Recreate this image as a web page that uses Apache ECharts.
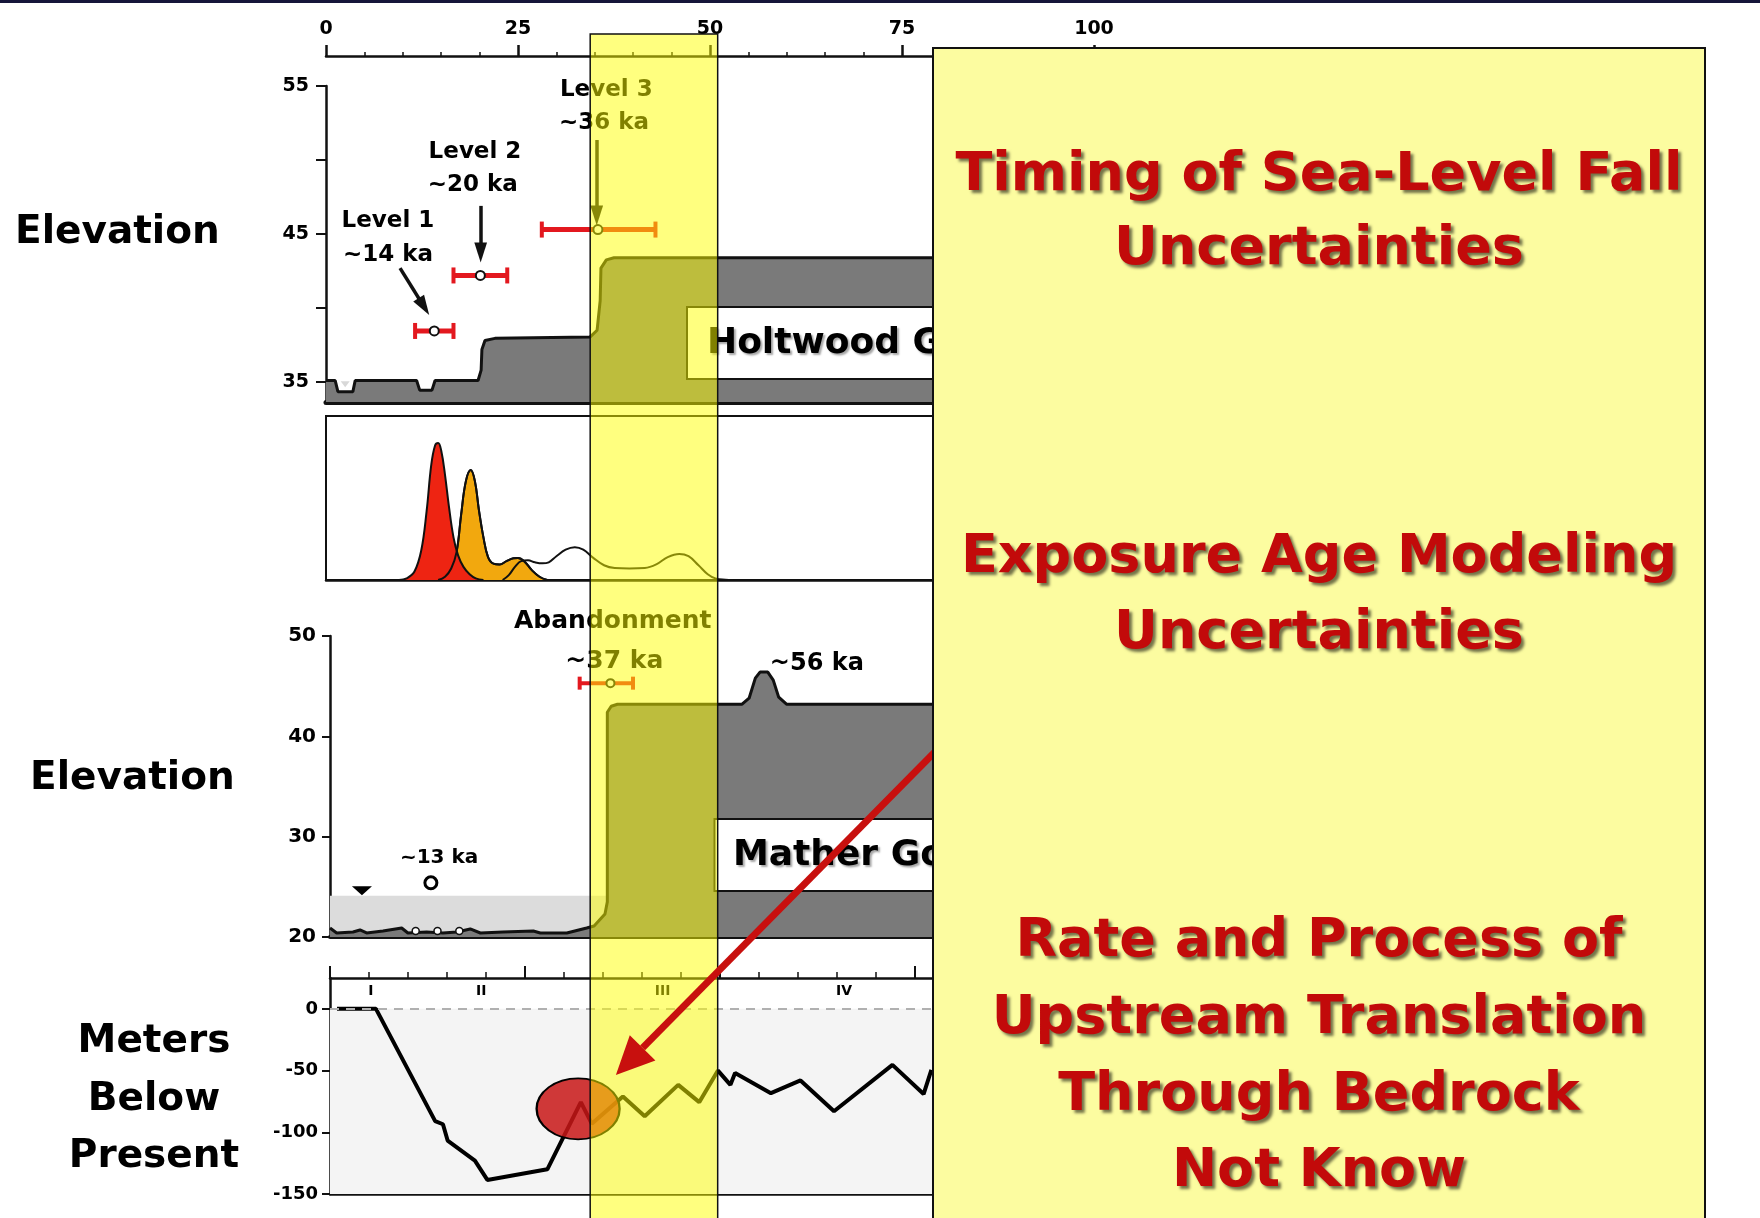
<!DOCTYPE html>
<html><head><meta charset="utf-8">
<script src="https://cdn.jsdelivr.net/npm/echarts@6/dist/echarts.min.js"></script>
<style>html,body{margin:0;padding:0;background:#fff}#c{width:1760px;height:1218px}</style>
</head><body><div id="c"></div>
<script>
// ================= DATA =================
const topTickLabels = [0, 25, 50, 75, 100];
// Holtwood Gorge longitudinal profile (age ka, elevation m)
const holtwoodAge  = [0, 1.2, 1.55, 3.5, 3.8, 11.8, 12.2, 13.8, 14.2, 19.8, 20.2, 20.3, 20.7, 22.0, 34.4, 35.3, 35.7, 35.8, 36.5, 37.5, 100];
const holtwoodElev = [35.1, 35.1, 34.35, 34.35, 35.1, 35.1, 34.45, 34.45, 35.1, 35.1, 35.8, 37.2, 37.8, 37.95, 38.05, 38.5, 40.5, 42.7, 43.25, 43.4, 43.4];
// Terrace levels (exposure ages)
const levelNames   = ['Level 1', 'Level 2', 'Level 3'];
const levelAgeText = ['~14 ka', '~20 ka', '~36 ka'];
const levelAge     = [14.1, 20.1, 35.4];
const levelAgeLow  = [11.6, 16.6, 28.1];
const levelAgeHigh = [16.6, 23.6, 42.9];
const levelElev    = [38.45, 42.2, 45.3];
// label anchors (age, elevation)
const levelLabelAge  = [8.07, 8.07, 19.4, 19.1, 36.5, 36.2];
const levelLabelElev = [45.9, 43.6, 50.56, 48.3, 54.7, 52.5];
// arrows: start / end (age, elevation)
const arrowFromAge  = [9.64, 20.14, 35.25];
const arrowFromElev = [42.7, 46.9, 51.35];
const arrowToAge    = [12.75, 20.14, 35.25];
const arrowToElev   = [40.1, 43.75, 46.25];
// Probability density curves (age ka, relative probability)
const pdfRedAge = [9.5, 10.5, 11.5, 12.4, 13.1, 13.7, 14.2, 14.6, 15.0, 15.5, 16.0, 16.6, 17.2, 17.9, 18.7, 19.5, 20.5];
const pdfRedVal = [0, 1, 5, 18, 42, 70, 82, 83.5, 79, 64, 45, 26, 15, 8, 3.5, 1, 0];
const pdfOrangeAge = [14.6, 15.5, 16.3, 17.0, 17.6, 18.2, 18.85, 19.4, 19.9, 20.5, 21.1, 21.8, 22.6, 23.5, 24.4, 25.0, 25.8, 26.8, 27.8, 28.8];
const pdfOrangeVal = [0, 2, 7, 17, 40, 60, 67, 60, 43, 26, 14, 10, 9.5, 11.5, 13.2, 13.4, 11.5, 6, 2, 0];
const pdfBlackAge = [23.0, 23.8, 24.6, 25.4, 26.3, 27.2, 28.2, 29.0, 30.0, 31.2, 32.4, 33.5, 34.8, 36.2, 37.6, 39.5, 41.5, 43.0, 44.5, 46.0, 47.2, 48.5, 49.7, 50.7, 52.0, 53.0];
const pdfBlackVal = [0, 3, 8, 11.5, 12, 10.8, 10.2, 10.8, 14.5, 18.5, 20, 18.5, 13.5, 9, 7.3, 7.0, 7.3, 9.5, 14, 15.9, 14.5, 9, 3.5, 1, 0.2, 0];
// Mather Gorge profile
const matherAge  = [0, 0.86, 2.95, 3.85, 4.7, 6.8, 9.2, 10.0, 12.4, 14.5, 16.3, 18.0, 19.3, 22.2, 26.1, 27.0, 30.4, 32.95, 33.9, 35.3, 35.6, 35.6, 36.1, 36.9, 52.9, 53.8, 54.6, 55.2, 56.2, 56.9, 57.6, 58.6, 130];
const matherElev = [20.9, 20.4, 20.5, 20.7, 20.4, 20.6, 20.9, 20.4, 20.5, 20.4, 20.5, 20.8, 20.4, 20.5, 20.6, 20.4, 20.4, 20.9, 21.1, 22.3, 23.5, 42.4, 43.0, 43.2, 43.2, 43.8, 45.8, 46.4, 46.4, 45.6, 43.9, 43.2, 43.2];
const matherShadeAge  = [0, 35.5];
const matherShadeElev = [20, 24.1];
const strathAge  = [11.0, 13.8, 16.6];
const strathElev = [20.6, 20.6, 20.6];
const sample13Age = [12.95], sample13Elev = [25.4];
const triangleAge = [4.1], triangleElev = [24.6];
const abandonAge = [36.0], abandonLow = [32.05], abandonHigh = [38.9], abandonElev = [45.3];
const matherLabelText = ['Abandonment', '~37 ka', '~56 ka', '~13 ka'];
const matherLabelAge  = [36.3, 36.5, 62.5, 14.0];
const matherLabelElev = [51.4, 47.5, 47.2, 27.9];
// Sea level curve (age ka, m below present)
const seaAge   = [0.9, 5.9, 13.5, 14.5, 15.1, 18.6, 20.2, 27.9, 32.2, 33.6, 37.6, 40.4, 44.7, 47.4, 49.8, 51.4, 52.0, 56.6, 60.4, 64.7, 72.2, 76.2, 77.2];
const seaLevel = [0, 0, -91, -93.5, -106.7, -123, -138.6, -130, -75.6, -93, -71, -87, -61.6, -75.6, -50, -61.6, -52, -68.3, -58, -83, -45.4, -69, -49.4];
const stageLabels = ['I', 'II', 'III', 'IV'];
const stageAge    = [5.26, 19.4, 42.7, 66.0];
const stageLevel  = [13.8, 13.8, 13.8, 13.8];
const highlightAge = [31.85], highlightLevel = [-81];
const redArrowTipAge = 36.7, redArrowTipLevel = -53.5;
const bandAge = [34.4, 51.0];
const seaTickLabels = [-150, -100, -50, 0];

// ================= STYLE / BUILD =================
const FONT = '"DejaVu Sans", "Liberation Sans", Arial, sans-serif';
const INK = '#111';
const zip = (a, b) => a.map((v, i) => [v, b[i]]);
const X_MAX_TOP = 100;
const X_MAX = 130;

function errorBarItem(capH, barW, r) {
  return function (params, api) {
    const y = api.value(3);
    const lo = api.coord([api.value(1), y]);
    const hi = api.coord([api.value(2), y]);
    const c = api.coord([api.value(0), y]);
    const red = '#e3181f';
    return {
      type: 'group', children: [
        { type: 'line', shape: { x1: lo[0], y1: lo[1], x2: hi[0], y2: hi[1] }, style: { stroke: red, lineWidth: barW } },
        { type: 'line', shape: { x1: lo[0], y1: lo[1] - capH / 2, x2: lo[0], y2: lo[1] + capH / 2 }, style: { stroke: red, lineWidth: 4 } },
        { type: 'line', shape: { x1: hi[0], y1: hi[1] - capH / 2, x2: hi[0], y2: hi[1] + capH / 2 }, style: { stroke: red, lineWidth: 4 } },
        { type: 'circle', shape: { cx: c[0], cy: c[1], r: r }, style: { fill: '#fff', stroke: INK, lineWidth: 2 } }
      ]
    };
  };
}
function rectItem(color) {
  return function (params, api) {
    const p1 = api.coord([api.value(0), api.value(3)]);
    const p2 = api.coord([api.value(1), api.value(2)]);
    return { type: 'rect', shape: { x: p1[0], y: p1[1], width: p2[0] - p1[0], height: p2[1] - p1[1] }, style: { fill: color } };
  };
}
const hiddenAxis = { axisLine: { show: false }, axisTick: { show: false }, axisLabel: { show: false }, splitLine: { show: false } };
const axisLabelStyle = { color: '#000', fontFamily: FONT, fontWeight: 'bold' };
const textLabel = (size) => ({ show: true, position: 'inside', formatter: '{b}', color: '#000', opacity: 1,
  fontSize: size, fontWeight: 'bold', fontFamily: FONT, textBorderWidth: 0 });

const option = {
  animation: false,
  backgroundColor: '#fff',
  grid: [
    { left: 326, top: 86, width: 768, height: 316, show: false },
    { left: 326, top: 416, width: 768, height: 164, show: true, borderColor: INK, borderWidth: 2, backgroundColor: 'transparent' },
    { left: 330, top: 636, width: 1012.7, height: 301, show: false },
    { left: 330, top: 978, width: 1012.7, height: 216, show: false }
  ],
  xAxis: [
    { type: 'value', gridIndex: 0, position: 'top', offset: 30, min: 0, max: X_MAX_TOP, interval: 25,
      axisLine: { show: true, onZero: false, lineStyle: { color: INK, width: 2.5 } },
      axisTick: { show: true, length: 11, lineStyle: { color: INK, width: 2.5 } },
      minorTick: { show: true, splitNumber: 5, length: 4, lineStyle: { color: INK, width: 1.5 } },
      axisLabel: Object.assign({ fontSize: 19, margin: 17, formatter: v => (topTickLabels.indexOf(v) >= 0 ? String(v) : '') }, axisLabelStyle),
      splitLine: { show: false } },
    Object.assign({ type: 'value', gridIndex: 0, position: 'bottom', min: 0, max: X_MAX_TOP }, hiddenAxis,
      { axisLine: { show: true, onZero: false, lineStyle: { color: INK, width: 5 } } }),
    Object.assign({ type: 'value', gridIndex: 1, position: 'bottom', min: 0, max: X_MAX_TOP }, hiddenAxis,
      { axisLine: { show: true, onZero: false, lineStyle: { color: INK, width: 2.5 } } }),
    Object.assign({ type: 'value', gridIndex: 2, position: 'bottom', min: 0, max: X_MAX }, hiddenAxis,
      { axisLine: { show: true, onZero: false, lineStyle: { color: INK, width: 4 } } }),
    { type: 'value', gridIndex: 3, position: 'top', min: 0, max: X_MAX, interval: 25,
      axisLine: { show: true, onZero: false, lineStyle: { color: INK, width: 2.5 } },
      axisTick: { show: true, length: 12, lineStyle: { color: INK, width: 2 } },
      minorTick: { show: true, splitNumber: 5, length: 6, lineStyle: { color: INK, width: 1.5 } },
      axisLabel: { show: false }, splitLine: { show: false } },
    Object.assign({ type: 'value', gridIndex: 3, position: 'bottom', min: 0, max: X_MAX }, hiddenAxis,
      { axisLine: { show: true, onZero: false, lineStyle: { color: INK, width: 2.5 } } })
  ],
  yAxis: [
    { type: 'value', gridIndex: 0, min: 33.65, max: 55,
      axisLine: { show: true, onZero: false, lineStyle: { color: INK, width: 2.5 } },
      axisTick: { show: true, length: 10, customValues: [35, 40, 45, 50, 55], lineStyle: { color: INK, width: 2 } },
      axisLabel: Object.assign({ fontSize: 19, margin: 17, customValues: [35, 45, 55] }, axisLabelStyle),
      splitLine: { show: false } },
    Object.assign({ type: 'value', gridIndex: 0, min: 33.65, max: 55 }, hiddenAxis,
      { axisTick: { show: true, inside: true, length: 10, customValues: [35, 40, 45, 50, 55], lineStyle: { color: INK, width: 2 } } }),
    Object.assign({ type: 'value', gridIndex: 1, min: 0, max: 100 }, hiddenAxis),
    { type: 'value', gridIndex: 2, min: 20, max: 50, interval: 10,
      axisLine: { show: true, onZero: false, lineStyle: { color: INK, width: 2.5 } },
      axisTick: { show: true, length: 8, lineStyle: { color: INK, width: 2 } },
      axisLabel: Object.assign({ fontSize: 20, margin: 14 }, axisLabelStyle),
      splitLine: { show: false } },
    Object.assign({ type: 'value', gridIndex: 2, min: 20, max: 50, interval: 10 }, hiddenAxis,
      { axisTick: { show: true, inside: true, length: 8, lineStyle: { color: INK, width: 2 } } }),
    { type: 'value', gridIndex: 3, min: -150, max: 25, interval: 50,
      axisLine: { show: true, onZero: false, lineStyle: { color: INK, width: 2.5 } },
      axisTick: { show: true, length: 8, customValues: seaTickLabels, lineStyle: { color: INK, width: 2 } },
      axisLabel: Object.assign({ fontSize: 18, margin: 12, customValues: seaTickLabels }, axisLabelStyle),
      splitLine: { show: false } }
  ],
  series: [
    // ---- panel 1 ----
    { type: 'line', name: 'Holtwood profile', xAxisIndex: 0, yAxisIndex: 0, z: 2, silent: true,
      data: zip(holtwoodAge, holtwoodElev), symbol: 'none',
      lineStyle: { color: INK, width: 3 }, areaStyle: { color: '#7a7a7a', opacity: 1, origin: 'start' },
      markLine: { silent: true, symbol: ['none', 'path://M0,0L7,22L-7,22Z'], symbolSize: 20, symbolKeepAspect: true,
        label: { show: false }, itemStyle: { color: INK },
        lineStyle: { color: INK, width: 3.5, type: 'solid' }, emphasis: { disabled: true },
        data: arrowFromAge.map((a, i) => [{ coord: [a, arrowFromElev[i]] }, { coord: [arrowToAge[i], arrowToElev[i]] }]) } },
    { type: 'scatter', xAxisIndex: 0, yAxisIndex: 0, z: 3, silent: true, symbol: 'triangle', symbolRotate: 180,
      symbolSize: [9, 6], itemStyle: { color: '#d8d8d8', opacity: 1 }, data: [[2.5, 34.85]] },
    { type: 'custom', name: 'Levels', xAxisIndex: 0, yAxisIndex: 0, z: 4, silent: true,
      renderItem: errorBarItem(16, 5, 4.5), encode: { x: [0, 1, 2], y: 3 },
      data: levelAge.map((a, i) => [a, levelAgeLow[i], levelAgeHigh[i], levelElev[i]]) },
    { type: 'scatter', xAxisIndex: 0, yAxisIndex: 0, z: 5, silent: true, clip: false, symbolSize: 1,
      itemStyle: { color: 'rgba(0,0,0,0)', opacity: 1 }, label: textLabel(23),
      data: levelLabelAge.map((a, i) => ({ name: i % 2 === 0 ? levelNames[i / 2] : levelAgeText[(i - 1) / 2], value: [a, levelLabelElev[i]] })) },
    // ---- panel 2 ----
    { type: 'line', xAxisIndex: 2, yAxisIndex: 2, z: 2, silent: true, smooth: 0.4, symbol: 'none',
      data: zip(pdfOrangeAge, pdfOrangeVal), lineStyle: { color: INK, width: 2 }, areaStyle: { color: '#f2a80e', opacity: 1 } },
    { type: 'line', xAxisIndex: 2, yAxisIndex: 2, z: 3, silent: true, smooth: 0.4, symbol: 'none',
      data: zip(pdfRedAge, pdfRedVal), lineStyle: { color: INK, width: 2 }, areaStyle: { color: '#ee2412', opacity: 1 } },
    { type: 'line', xAxisIndex: 2, yAxisIndex: 2, z: 4, silent: true, smooth: 0.4, symbol: 'none',
      data: zip(pdfOrangeAge, pdfOrangeVal), lineStyle: { color: INK, width: 2 } },
    { type: 'line', xAxisIndex: 2, yAxisIndex: 2, z: 4, silent: true, smooth: 0.4, symbol: 'none',
      data: zip(pdfBlackAge, pdfBlackVal), lineStyle: { color: INK, width: 2 } },
    // ---- panel 3 ----
    { type: 'custom', xAxisIndex: 3, yAxisIndex: 3, z: 1, silent: true, renderItem: rectItem('#dcdcdc'),
      encode: { x: [0, 1], y: [2, 3] }, data: [[matherShadeAge[0], matherShadeAge[1], matherShadeElev[0], matherShadeElev[1]]] },
    { type: 'line', name: 'Mather profile', xAxisIndex: 3, yAxisIndex: 3, z: 2, silent: true,
      data: zip(matherAge, matherElev), symbol: 'none',
      lineStyle: { color: INK, width: 3 }, areaStyle: { color: '#7a7a7a', opacity: 1, origin: 'start' } },
    { type: 'scatter', xAxisIndex: 3, yAxisIndex: 3, z: 3, silent: true, symbolSize: 7,
      itemStyle: { color: '#fff', borderColor: INK, borderWidth: 1.5, opacity: 1 }, data: zip(strathAge, strathElev) },
    { type: 'scatter', xAxisIndex: 3, yAxisIndex: 3, z: 3, silent: true, symbolSize: 12,
      itemStyle: { color: '#fff', borderColor: '#000', borderWidth: 3, opacity: 1 }, data: zip(sample13Age, sample13Elev) },
    { type: 'scatter', xAxisIndex: 3, yAxisIndex: 3, z: 3, silent: true, symbol: 'triangle', symbolRotate: 180,
      symbolSize: [20, 9], itemStyle: { color: '#000', opacity: 1 }, data: zip(triangleAge, triangleElev) },
    { type: 'custom', xAxisIndex: 3, yAxisIndex: 3, z: 4, silent: true, clip: false,
      renderItem: errorBarItem(13, 4, 4), encode: { x: [0, 1, 2], y: 3 },
      data: abandonAge.map((a, i) => [a, abandonLow[i], abandonHigh[i], abandonElev[i]]) },
    { type: 'scatter', xAxisIndex: 3, yAxisIndex: 3, z: 5, silent: true, clip: false, symbolSize: 1,
      itemStyle: { color: 'rgba(0,0,0,0)', opacity: 1 }, label: textLabel(25),
      data: matherLabelText.map((t, i) => ({ name: t, value: [matherLabelAge[i], matherLabelElev[i]],
        label: { fontSize: i === 3 ? 20 : (i === 2 ? 24 : 25) } })) },
    // ---- panel 4 ----
    { type: 'custom', xAxisIndex: 4, yAxisIndex: 5, z: 1, silent: true, renderItem: rectItem('#f4f4f4'),
      encode: { x: [0, 1], y: [2, 3] }, data: [[0, X_MAX, -150, 0]] },
    { type: 'line', name: 'Sea level', xAxisIndex: 4, yAxisIndex: 5, z: 3, silent: true,
      data: zip(seaAge, seaLevel), symbol: 'none', lineStyle: { color: '#000', width: 4 },
      markLine: { silent: true, symbol: 'none', label: { show: false }, emphasis: { disabled: true },
        lineStyle: { color: '#b0b0b0', width: 2, type: [9, 7] }, data: [{ yAxis: 0 }] } },
    { type: 'scatter', xAxisIndex: 4, yAxisIndex: 5, z: 4, silent: true, symbol: 'circle', symbolSize: [83, 61],
      itemStyle: { color: 'rgba(200,22,22,0.85)', borderColor: '#000', borderWidth: 2, opacity: 1 }, data: zip(highlightAge, highlightLevel) },
    { type: 'scatter', xAxisIndex: 4, yAxisIndex: 5, z: 5, silent: true, symbolSize: 1,
      itemStyle: { color: 'rgba(0,0,0,0)', opacity: 1 }, label: textLabel(14),
      data: stageLabels.map((t, i) => ({ name: t, value: [stageAge[i], stageLevel[i]] })) }
  ]
};

const chart = echarts.init(document.getElementById('c'), null, { renderer: 'canvas' });
chart.setOption(option);

// ---- annotations (positions from the chart's own scales) ----
const bx0 = chart.convertToPixel({ xAxisIndex: 0 }, bandAge[0]);
const bx1 = chart.convertToPixel({ xAxisIndex: 0 }, bandAge[1]);
const tip = chart.convertToPixel({ gridIndex: 3 }, [redArrowTipAge, redArrowTipLevel]);
const dir = [0.7027, -0.7116], perp = [0.7116, 0.7027];
const headLen = 38, headHalf = 18, tail = 600;
const base = [tip[0] + dir[0] * headLen, tip[1] + dir[1] * headLen];
const start = [tip[0] + dir[0] * tail, tip[1] + dir[1] * tail];

const redTxt = (text, y) => ({ type: 'text', z: 110, silent: true,
  style: { text, x: 1319, y, font: 'bold 54px ' + FONT, fill: '#c20a0a', align: 'center', verticalAlign: 'middle',
    textShadowColor: 'rgba(0,0,0,0.55)', textShadowBlur: 3, textShadowOffsetX: 3, textShadowOffsetY: 3 } });
const blackTxt = (text, x, y, size, align) => ({ type: 'text', z: 30, silent: true,
  style: { text, x, y, font: 'bold ' + size + 'px ' + FONT, fill: '#000', align: align || 'left', verticalAlign: 'middle' } });

chart.setOption({ graphic: [
  { type: 'rect', z: 200, silent: true, shape: { x: 0, y: 0, width: 1760, height: 3 }, style: { fill: '#16163a' } },
  // gorge name boxes
  { type: 'rect', z: 20, silent: true, shape: { x: 687, y: 307, width: 320, height: 72 }, style: { fill: '#fff', stroke: INK, lineWidth: 2 } },
  { type: 'text', z: 21, silent: true, style: { text: 'Holtwood Gorge', x: 707, y: 344, font: 'bold 36px ' + FONT, fill: '#000',
      verticalAlign: 'middle', textShadowColor: 'rgba(0,0,0,0.35)', textShadowBlur: 2, textShadowOffsetX: 2, textShadowOffsetY: 2 } },
  { type: 'rect', z: 20, silent: true, shape: { x: 714.5, y: 819, width: 320, height: 72 }, style: { fill: '#fff', stroke: INK, lineWidth: 2 } },
  { type: 'text', z: 21, silent: true, style: { text: 'Mather Gorge', x: 733, y: 856, font: 'bold 36px ' + FONT, fill: '#000',
      verticalAlign: 'middle', textShadowColor: 'rgba(0,0,0,0.35)', textShadowBlur: 2, textShadowOffsetX: 2, textShadowOffsetY: 2 } },
  // yellow highlight band
  { type: 'rect', z: 50, silent: true, shape: { x: bx0, y: 34, width: bx1 - bx0, height: 1300 },
    style: { fill: 'rgba(255,255,0,0.5)', stroke: INK, lineWidth: 1.5 } },
  // red arrow
  { type: 'line', z: 60, silent: true, shape: { x1: start[0], y1: start[1], x2: base[0], y2: base[1] },
    style: { stroke: '#c8100e', lineWidth: 7 } },
  { type: 'polygon', z: 60, silent: true, shape: { points: [tip,
      [base[0] + perp[0] * headHalf, base[1] + perp[1] * headHalf],
      [base[0] - perp[0] * headHalf, base[1] - perp[1] * headHalf]] }, style: { fill: '#c8100e' } },
  // big callout box
  { type: 'rect', z: 100, silent: true, shape: { x: 933, y: 48, width: 772, height: 1250 },
    style: { fill: '#fcfca0', stroke: INK, lineWidth: 2 } },
  redTxt('Timing of Sea-Level Fall', 176),
  redTxt('Uncertainties', 250),
  redTxt('Exposure Age Modeling', 558),
  redTxt('Uncertainties', 634),
  redTxt('Rate and Process of', 942),
  redTxt('Upstream Translation', 1019),
  redTxt('Through Bedrock', 1096),
  redTxt('Not Know', 1172),
  // left axis titles
  blackTxt('Elevation', 15, 233, 39),
  blackTxt('Elevation', 30, 779, 39),
  blackTxt('Meters', 154, 1042, 39, 'center'),
  blackTxt('Below', 154, 1100, 39, 'center'),
  blackTxt('Present', 154, 1157, 39, 'center')
] });
</script>
</body></html>
